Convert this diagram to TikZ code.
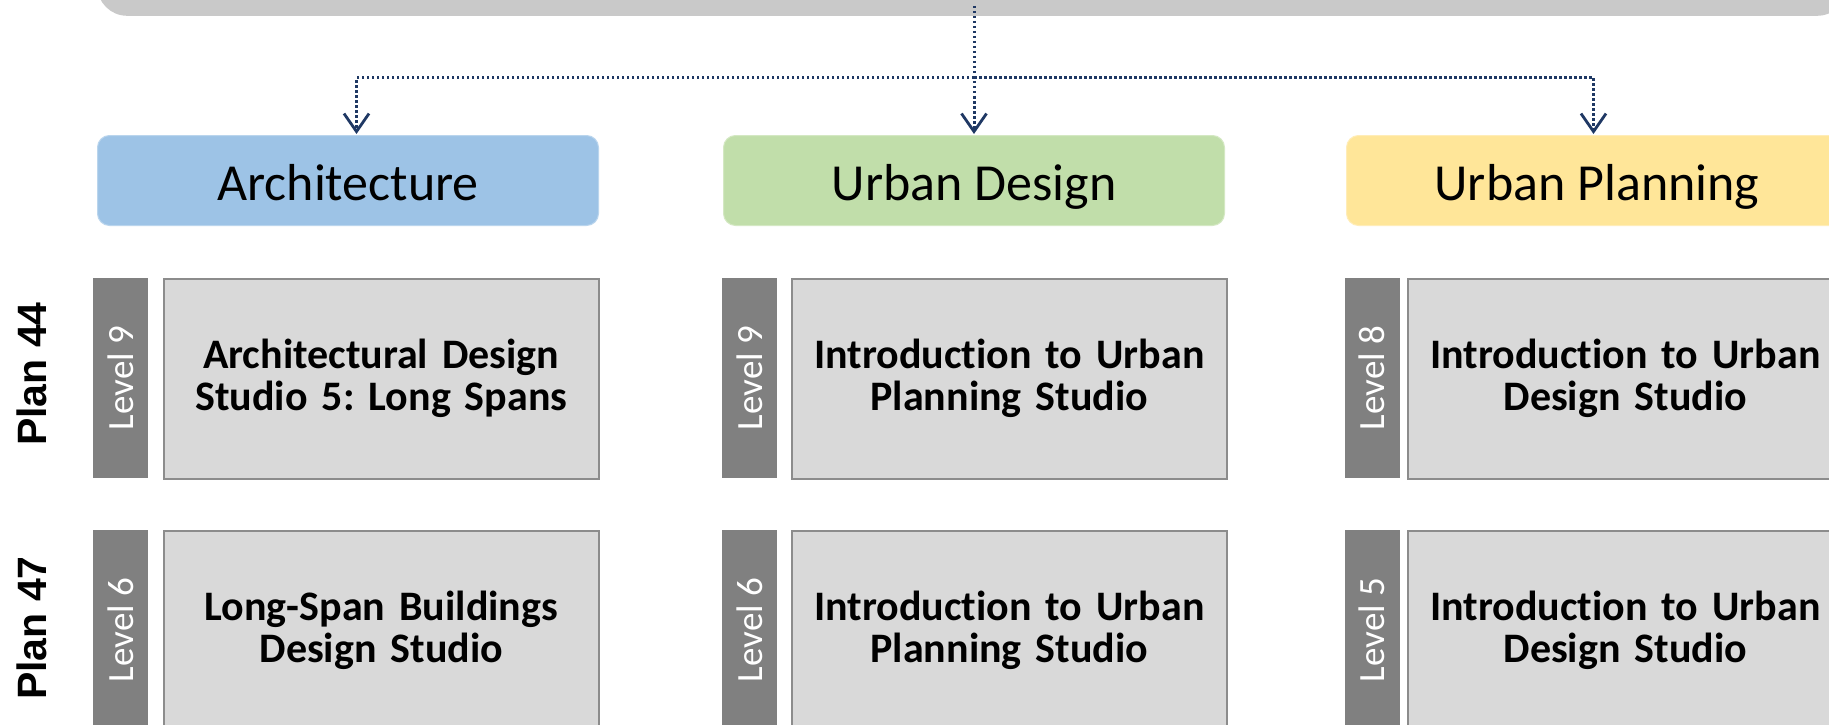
\documentclass[tikz,border=0pt]{standalone}
\usepackage{fontspec}
\setmainfont{Carlito}[Ligatures=NoCommon]
\newfontfamily\plansans{Liberation Sans}
\usetikzlibrary{arrows.meta}
\definecolor{barGray}{HTML}{C9C9C9}
\definecolor{archBlue}{HTML}{9DC3E6}
\definecolor{udGreen}{HTML}{C1DEAA}
\definecolor{upYellow}{HTML}{FFE699}
\definecolor{lvlGray}{HTML}{808080}
\definecolor{boxGray}{HTML}{D9D9D9}
\definecolor{boxEdge}{HTML}{8C8C8C}
\definecolor{navy}{HTML}{1F3864}
\tikzset{
  topbar/.style={fill=barGray, draw=none, rounded corners=30pt, inner sep=0pt},
  header/.style={rounded corners=12pt, minimum width=501pt, minimum height=90pt, inner sep=0pt,
     text height=40pt, text depth=0pt,
     font=\fontsize{52}{60}\selectfont, text=black},
  lvlbar/.style={fill=lvlGray, draw=none, rotate=90, minimum width=200pt, minimum height=55pt,
     inner sep=0pt, text=white, font=\fontsize{37}{40}\selectfont},
  course/.style={fill=boxGray, draw=boxEdge, line width=1.6pt, minimum width=435pt, minimum height=200pt,
     inner sep=0pt, text width=430pt, align=center, font=\frenchspacing\fontsize{42}{42}\selectfont\bfseries},
  planlbl/.style={rotate=90, inner sep=0pt, font=\plansans\fontsize{41}{41}\selectfont\bfseries},
  conn/.style={draw=navy, line width=3pt, dash pattern=on 2.5pt off 2.5pt},
  arr/.style={-{Straight Barb[length=18pt, width=25pt, line width=2.8pt]}, shorten >=1pt}
}
\begin{document}
\begin{tikzpicture}[x=1pt,y=-1pt]
\useasboundingbox (0,0) rectangle (1829,725);
\clip (0,0) rectangle (1829,725);
\fill[white] (0,0) rectangle (1829,725);

% top bar
\node[topbar, anchor=south west, minimum width=1750pt, minimum height=100pt] (top) at (97,16) {};
\coordinate (src) at (974,6);
\coordinate (split) at (974,78);

% headers
\node[header, anchor=north west, fill=archBlue, draw=archBlue!70!white, line width=1pt] (arch) at (97,135) {Architecture};
\node[header, anchor=north west, fill=udGreen, draw=udGreen!70!white, line width=1pt] (ud) at (723,135) {Urban Design};
\node[header, anchor=north west, fill=upYellow, draw=upYellow!70!white, line width=1pt] (up) at (1346,135) {Urban Planning};

% connectors
\draw[conn, arr] (src) -- (ud.north);
\draw[conn, arr] (split) -| ([xshift=8.5pt]arch.north);
\draw[conn, arr] (split) -| ([xshift=-3.5pt]up.north);

% plan labels
\node[planlbl] (p44) at (32,374) {Plan 44};
\node[planlbl] (p47) at (32,628) {Plan 47};

% row 1
\node[lvlbar] (l11) at (120.5,378) {Level 9};
\node[course, anchor=north west] (c11) at (163,278) {Architectural Design\\Studio 5: Long Spans};
\node[lvlbar] (l12) at (749.5,378) {Level 9};
\node[course, anchor=north west] (c12) at (791,278) {Introduction to Urban\\Planning Studio};
\node[lvlbar] (l13) at (1372,378) {Level 8};
\node[course, anchor=north west] (c13) at (1407,278) {Introduction to Urban\\Design Studio};

% row 2
\node[lvlbar] (l21) at (120.5,630) {Level 6};
\node[course, anchor=north west] (c21) at (163,530) {Long-Span Buildings\\Design Studio};
\node[lvlbar] (l22) at (749.5,630) {Level 6};
\node[course, anchor=north west] (c22) at (791,530) {Introduction to Urban\\Planning Studio};
\node[lvlbar] (l23) at (1372,630) {Level 5};
\node[course, anchor=north west] (c23) at (1407,530) {Introduction to Urban\\Design Studio};
\end{tikzpicture}
\end{document}
